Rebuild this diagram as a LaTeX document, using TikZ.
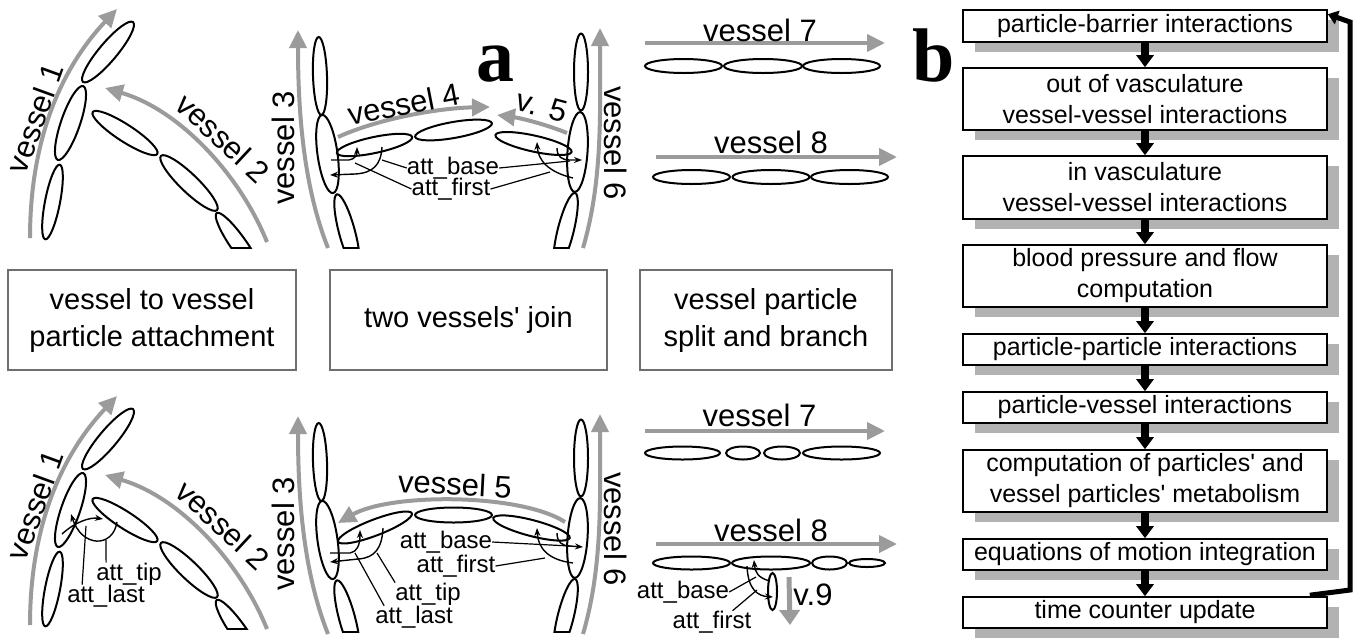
\documentclass[tikz,border=0pt]{standalone}
\usepackage{fontspec}
\setmainfont{Liberation Sans}[Ligatures=TeXOff]
\newfontfamily\letterfont{Liberation Serif}
\usetikzlibrary{arrows.meta,shadows}

\definecolor{vgray}{RGB}{155,155,155}
\definecolor{boxedge}{RGB}{110,110,110}
\definecolor{shade}{RGB}{178,178,178}

\newcommand\vfont{\fontsize{31}{36}\selectfont}
\newcommand\afont{\fontsize{24}{28}\selectfont}
\newcommand\cfont{\fontsize{29}{37}\selectfont}
\newcommand\ffont{\fontsize{25}{31}\selectfont}
\newcommand\bigletter{\fontsize{76}{80}\selectfont\letterfont\bfseries}

\tikzset{
  vessel/.style={draw=vgray, line width=4pt, -{Triangle[length=18pt,width=17pt]}},
  part/.style={draw=black, line width=2pt},
  attarrow/.style={draw=black, line width=1.4pt, -{Stealth[length=8pt,width=6pt]}},
  leader/.style={draw=black, line width=1.2pt},
  vlabel/.style={font=\vfont, inner sep=0pt},
  alabel/.style={font=\afont, inner sep=0pt},
  capbox/.style={draw=boxedge, line width=2pt, align=center, font=\cfont, inner sep=0pt},
  fbox/.style={draw=black, line width=1.6pt, fill=white, minimum width=364pt,
    align=center, font=\ffont, inner sep=0pt,
    drop shadow={shadow xshift=12pt, shadow yshift=-10pt, fill=shade, opacity=1}},
  farrow/.style={draw=black, line width=7.5pt, -{Triangle[length=12pt,width=17pt]}},
  fback/.style={draw=black, line width=5pt, line join=miter, -{Triangle[length=10pt,width=14pt]}},
}

% vessel particle: centre (#1,#2), tilt #3, semi-axes #4 and #5
\newcommand\particle[5]{\draw[part, rotate around={#3:(#1,#2)}] (#1,#2) ellipse ({#4} and {#5});}
% vessel particle cut off along the line y = #6
\newcommand\cutparticle[6]{%
  \begin{scope}
    \clip (-10,#6) rectangle (1400,-50);
    \draw[part, rotate around={#3:(#1,#2)}] (#1,#2) ellipse ({#4} and {#5});
  \end{scope}
  \begin{scope}
    \clip[rotate around={#3:(#1,#2)}] (#1,#2) ellipse ({#4} and {#5});
    \draw[part] (-10,#6) -- (1400,#6);
  \end{scope}}

% vessels 1 and 2 with their particles (#1: name suffix, #2: cut level)
\newcommand\attachpair[2]{%
  \draw[vessel] (30,238) .. controls (30,150) and (55,75) .. (117,9);
  \draw[vessel] (267,242) .. controls (240,175) and (180,110) .. (105,88);
  \node[vlabel, rotate=70] (vone#1) at (35,118) {vessel 1};
  \node[vlabel, rotate=-43] (vtwo#1) at (223,138) {vessel 2};
  \particle{52.5}{202}{79}{38}{7.5}
  \particle{70.5}{123}{71}{39}{9.5}
  \particle{108}{52}{50}{39}{9}
  \particle{125}{133}{-33}{38.5}{8.5}
  \particle{189}{183}{-44}{39}{9}
  \cutparticle{239}{245}{-55}{39}{8}{#2}
}

% vessels 3 and 6 with their particles (#1: name suffix, #2: cut level)
\newcommand\sidepair[2]{%
  \draw[vessel] (328,248) .. controls (305,190) and (298,120) .. (298,30);
  \draw[vessel] (583,248) .. controls (603,180) and (600,110) .. (600,28);
  \node[vlabel, rotate=90] (vthree#1) at (283,148) {vessel 3};
  \node[vlabel, rotate=-90] (vsix#1) at (616,143) {vessel 6};
  \particle{320}{76}{92}{39}{7}
  \particle{327.5}{154}{98}{39.5}{10}
  \cutparticle{347}{232}{105}{39}{8}{#2}
  \particle{581}{72}{90}{38.5}{7}
  \particle{577.5}{152}{86}{40}{10}
  \cutparticle{565.6}{230.8}{76}{39}{8}{#2}
}

\begin{document}
\begin{tikzpicture}[x=1pt, y=-1pt]
\useasboundingbox (0,0) rectangle (1356,638);

% ---------- panel a, upper row ----------
\attachpair{T}{248}
\sidepair{T}{248}

% vessels 4 and 5 joining
\draw[vessel] (338,137) .. controls (380,118) and (440,108) .. (490,107);
\node[vlabel, rotate=11] (vfour) at (404,104) {vessel 4};
\draw[vessel] (567,133) .. controls (545,124) and (520,118) .. (497,115);
\node[vlabel, rotate=-15] (vfiveT) at (542,106) {v. 5};
\particle{374.5}{145}{12}{38.5}{8}
\particle{453.5}{130}{10}{39}{8}
\particle{533.5}{143.5}{-12.5}{39}{8}

\node[alabel] (tb) at (453,168) {att\_base};
\node[alabel] (tf) at (451,189) {att\_first};
\draw[attarrow] (331,160) -- (349,160) .. controls (355,159) and (357,155) .. (357,147);
\draw[attarrow] (382,147) .. controls (381,165) and (373,173) .. (355,174) -- (330,175);
\draw[leader] (tb.west) -- (382,160);
\draw[leader] (tf.west) -- (355,163);
\draw[attarrow] (573,178) .. controls (548,172) and (538,160) .. (537,142);
\draw[attarrow] (557,148) .. controls (557,157) and (562,160) .. (570,160) -- (582,160);
\draw[leader] (tb.east) -- (570,161);
\draw[leader] (tf.east) -- (550,172);

\node[font=\bigletter, inner sep=0pt] (la) at (495,64) {a};

% vessels 7 and 8
\draw[vessel] (645,43) -- (885,43);
\node[vlabel] (vsevenT) at (760,30) {vessel 7};
\particle{683.5}{66}{0}{38.5}{7}
\particle{763}{66}{0}{39}{7}
\particle{841.5}{66}{0}{38.5}{7}
\draw[vessel] (656,157) -- (897,157);
\node[vlabel] (veightT) at (771,142) {vessel 8};
\particle{691.5}{177}{0}{38.5}{7}
\particle{771}{177}{0}{38.5}{7}
\particle{849.5}{177}{0}{38.5}{7}

% ---------- captions ----------
\node[capbox, minimum width=288pt, minimum height=100pt] (c1) at (152,320) {vessel to vessel\\particle attachment};
\node[capbox, minimum width=277pt, minimum height=100pt] (c2) at (468.5,320) {two vessels' join};
\node[capbox, minimum width=252pt, minimum height=100pt] (c3) at (766,320) {vessel particle\\split and branch};

% ---------- panel a, lower row ----------
\begin{scope}[yshift=-387pt]
  \attachpair{B}{242}
\end{scope}
\begin{scope}[yshift=-386pt]
  \sidepair{B}{246}
\end{scope}

\node[alabel] (lt) at (129,574) {att\_tip};
\node[alabel] (ll) at (106,596) {att\_last};
\draw[attarrow] (117,522) .. controls (113,548) and (82,548) .. (71,514);
\draw[attarrow] (62,534) .. controls (75,522) and (90,517) .. (103,519);
\draw[leader] ([xshift=10pt]lt.north west) -- (106,540);
\draw[leader] ([xshift=15pt]ll.north west) -- (86,526);

% vessel 5 between vessels 3 and 6
\draw[vessel] (565,522) .. controls (520,493) and (390,493) .. (338,523);
\node[vlabel, rotate=-3] (vfiveB) at (455,484) {vessel 5};
\particle{375}{527.5}{21}{39.5}{8}
\particle{453.5}{515}{0}{38.5}{7.5}
\particle{531.5}{528}{-14.6}{39.5}{8}

\node[alabel] (bb) at (446,542) {att\_base};
\node[alabel] (bf) at (456,566) {att\_first};
\node[alabel] (bt) at (428,594) {att\_tip};
\node[alabel] (bl) at (414,617) {att\_last};
\draw[attarrow] (330,553) -- (350,553) .. controls (357,552) and (360,545) .. (360,530);
\draw[attarrow] (383,528) .. controls (382,548) and (375,558) .. (358,559) -- (330,562);
\draw[leader] (bt.north west) -- (377,553);
\draw[leader] ([xshift=9pt]bl.north west) -- (355,553);
\draw[attarrow] (573,563) .. controls (548,560) and (538,548) .. (537,528);
\draw[attarrow] (557,533) .. controls (557,542) and (562,546) .. (570,546) -- (583,547);
\draw[leader] (bb.east) -- (570,546);
\draw[leader] (bf.east) -- (545,558);

% vessel 7 split, vessel 8 branching into vessel 9
\draw[vessel] (645,431) -- (885,431);
\node[vlabel] (vsevenB) at (759.5,415) {vessel 7};
\particle{682.5}{453}{0}{37.5}{6.5}
\particle{743}{453}{0}{17}{6.5}
\particle{782}{453}{0}{18}{6.5}
\particle{841.5}{453}{0}{38.5}{6.5}
\draw[vessel] (656,544) -- (897,544);
\node[vlabel] (veightB) at (771,530) {vessel 8};
\particle{691.5}{563}{0}{38.5}{6.5}
\particle{771}{563}{0}{39}{6.5}
\particle{829.5}{563}{0}{17.5}{6.5}
\particle{867}{563}{0}{18}{4}
\particle{772.5}{591.5}{90}{18.5}{4.5}
\draw[vessel, line width=5pt, -{Triangle[length=15pt,width=20pt]}] (789,577) -- (790,625);
\node[vlabel] (vnine) at (813,595) {v.9};

\node[alabel] (rb) at (683,592) {att\_base};
\node[alabel] (rf) at (712,622) {att\_first};
\draw[attarrow] (770,581) .. controls (758,578) and (755,572) .. (754,560);
\draw[attarrow] (747,566) .. controls (748,590) and (758,596) .. (773,597);
\draw[leader] (rb.east) -- (756,577);
\draw[leader] ([xshift=-19pt]rf.north east) -- (757,590);

% ---------- panel b: simulation loop ----------
\node[font=\bigletter, inner sep=0pt] (lb) at (934,55) {b};

\node[fbox, minimum height=32pt] (b1) at (1145,26) {particle-barrier interactions};
\node[fbox, minimum height=62pt] (b2) at (1145,99) {out of vasculature\\vessel-vessel interactions};
\node[fbox, minimum height=63pt] (b3) at (1145,187.5) {in vasculature\\vessel-vessel interactions};
\node[fbox, minimum height=62pt] (b4) at (1145,276) {blood pressure and flow\\computation};
\node[fbox, minimum height=31pt] (b5) at (1145,349.5) {particle-particle interactions};
\node[fbox, minimum height=31pt] (b6) at (1145,407.5) {particle-vessel interactions};
\node[fbox, minimum height=62pt] (b7) at (1145,481) {computation of particles' and\\vessel particles' metabolism};
\node[fbox, minimum height=31pt] (b8) at (1145,554.5) {equations of motion integration};
\node[fbox, minimum height=31pt] (b9) at (1145,612.5) {time counter update};

\draw[farrow] (b1.south) -- (b2.north);
\draw[farrow] (b2.south) -- (b3.north);
\draw[farrow] (b3.south) -- (b4.north);
\draw[farrow] (b4.south) -- (b5.north);
\draw[farrow] (b5.south) -- (b6.north);
\draw[farrow] (b6.south) -- (b7.north);
\draw[farrow] (b7.south) -- (b8.north);
\draw[farrow] (b8.south) -- (b9.north);

\coordinate (fbA) at (1350,590);
\coordinate (fbB) at (1350,22);
\draw[fback] ([xshift=-18pt, yshift=1pt]b9.north east) -- (fbA) -- (fbB) -- ([yshift=-5pt]b1.north east);
\end{tikzpicture}
\end{document}
